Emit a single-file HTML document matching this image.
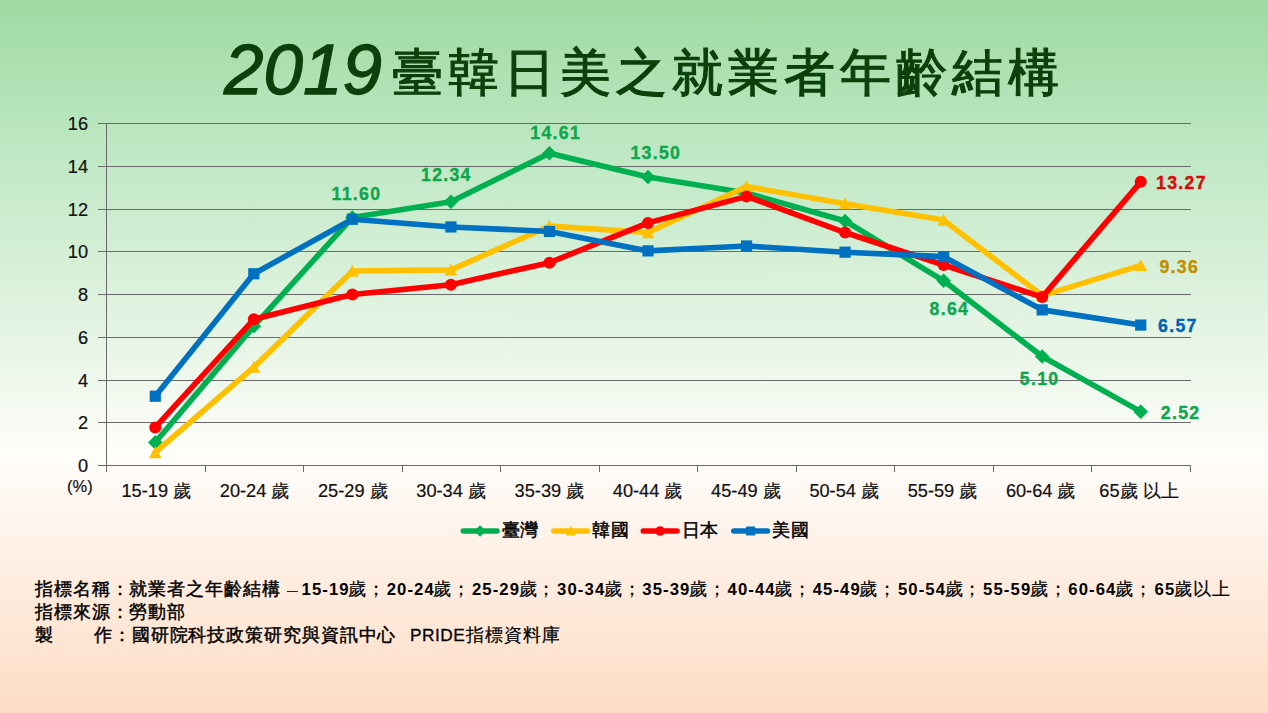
<!DOCTYPE html>
<html><head><meta charset="utf-8">
<style>
html,body{margin:0;padding:0;}
body{width:1268px;height:713px;overflow:hidden;position:relative;
background:linear-gradient(to bottom,#9fd9a1 0%,#bee8c3 21%,#fffdfa 64%,#fddcc4 100%);
font-family:"Liberation Sans",sans-serif;}
.t{position:absolute;white-space:nowrap;}
#y2019{left:224px;top:24.5px;color:#0b400b;font-size:71px;line-height:90px;font-style:italic;letter-spacing:0px;-webkit-text-stroke:1.3px #0b400b}
#tcjk{left:392px;top:38px;color:#0b400b;font-size:51px;line-height:70px;letter-spacing:5px;-webkit-text-stroke:1.2px #0b400b}
svg{position:absolute;left:0;top:0;}
.g{stroke:#6a6a6a;stroke-width:1;}
.ax{stroke:#6a6a6a;stroke-width:1;}
.yl{font-size:18.2px;color:#111;text-align:right;width:40px;left:48px;line-height:20px;-webkit-text-stroke:0.2px #111}
.xl{font-size:18.2px;color:#111;line-height:20px;-webkit-text-stroke:0.2px #111}
.c{width:120px;text-align:center}
.dl{font-size:17.7px;font-weight:bold;line-height:20px;letter-spacing:1.3px;-webkit-text-stroke:0.35px currentColor}
.leg{font-size:18px;color:#000;line-height:20px;letter-spacing:0.5px;-webkit-text-stroke:0.5px #000}
.fc{font-size:18px;letter-spacing:0.9px;color:#000;line-height:22px;-webkit-text-stroke:0.2px #000}
.fc.b{-webkit-text-stroke:0.45px #000}
.fd{font-size:16.7px;font-weight:bold;letter-spacing:1.1px;color:#000;line-height:22px}
.fp{font-size:17.3px;letter-spacing:0.5px;color:#000;line-height:22px;-webkit-text-stroke:0.3px #000}
</style></head><body>
<div class="t" id="y2019">2019</div>
<div class="t" id="tcjk">臺韓日美之就業者年齡結構</div>
<svg width="1268" height="713" viewBox="0 0 1268 713">
<line x1="98" y1="123.5" x2="1191" y2="123.5" class="g"/>
<line x1="98" y1="166.5" x2="1191" y2="166.5" class="g"/>
<line x1="98" y1="209.5" x2="1191" y2="209.5" class="g"/>
<line x1="98" y1="251.5" x2="1191" y2="251.5" class="g"/>
<line x1="98" y1="294.5" x2="1191" y2="294.5" class="g"/>
<line x1="98" y1="337.5" x2="1191" y2="337.5" class="g"/>
<line x1="98" y1="380.5" x2="1191" y2="380.5" class="g"/>
<line x1="98" y1="422.5" x2="1191" y2="422.5" class="g"/>
<line x1="98" y1="465.5" x2="1191" y2="465.5" class="ax"/>
<line x1="106.5" y1="123" x2="106.5" y2="472" class="ax"/>
<line x1="205.50" y1="465" x2="205.50" y2="472" class="ax"/>
<line x1="303.50" y1="465" x2="303.50" y2="472" class="ax"/>
<line x1="402.50" y1="465" x2="402.50" y2="472" class="ax"/>
<line x1="500.50" y1="465" x2="500.50" y2="472" class="ax"/>
<line x1="599.50" y1="465" x2="599.50" y2="472" class="ax"/>
<line x1="697.50" y1="465" x2="697.50" y2="472" class="ax"/>
<line x1="796.50" y1="465" x2="796.50" y2="472" class="ax"/>
<line x1="894.50" y1="465" x2="894.50" y2="472" class="ax"/>
<line x1="993.50" y1="465" x2="993.50" y2="472" class="ax"/>
<line x1="1091.50" y1="465" x2="1091.50" y2="472" class="ax"/>
<line x1="1190.50" y1="465" x2="1190.50" y2="472" class="ax"/>
<polyline points="155.27,442.42 253.82,326.13 352.36,217.55 450.91,201.73 549.45,153.21 648.00,176.94 746.55,192.97 845.09,220.97 943.64,280.82 1042.18,356.49 1140.73,411.63" fill="none" stroke="#00b050" stroke-width="5.6" stroke-linejoin="round" stroke-linecap="round"/>
<path d="M155.27 435.12L162.57 442.42L155.27 449.72L147.97 442.42Z" fill="#00b050"/>
<path d="M253.82 318.83L261.12 326.13L253.82 333.44L246.52 326.13Z" fill="#00b050"/>
<path d="M352.36 210.25L359.66 217.55L352.36 224.85L345.06 217.55Z" fill="#00b050"/>
<path d="M450.91 194.43L458.21 201.73L450.91 209.03L443.61 201.73Z" fill="#00b050"/>
<path d="M549.45 145.91L556.75 153.21L549.45 160.51L542.15 153.21Z" fill="#00b050"/>
<path d="M648.00 169.64L655.30 176.94L648.00 184.24L640.70 176.94Z" fill="#00b050"/>
<path d="M746.55 185.67L753.85 192.97L746.55 200.27L739.25 192.97Z" fill="#00b050"/>
<path d="M845.09 213.67L852.39 220.97L845.09 228.27L837.79 220.97Z" fill="#00b050"/>
<path d="M943.64 273.52L950.94 280.82L943.64 288.12L936.34 280.82Z" fill="#00b050"/>
<path d="M1042.18 349.19L1049.48 356.49L1042.18 363.79L1034.88 356.49Z" fill="#00b050"/>
<path d="M1140.73 404.33L1148.03 411.63L1140.73 418.94L1133.43 411.63Z" fill="#00b050"/>
<polyline points="155.27,452.46 253.82,367.18 352.36,270.99 450.91,269.92 549.45,226.10 648.00,232.51 746.55,186.56 845.09,203.66 943.64,220.11 1042.18,295.57 1140.73,265.43" fill="none" stroke="#ffc000" stroke-width="5.6" stroke-linejoin="round" stroke-linecap="round"/>
<path d="M155.27 446.16L161.57 458.13L148.97 458.13Z" fill="#ffc000"/>
<path d="M253.82 360.88L260.12 372.85L247.52 372.85Z" fill="#ffc000"/>
<path d="M352.36 264.69L358.66 276.66L346.06 276.66Z" fill="#ffc000"/>
<path d="M450.91 263.62L457.21 275.59L444.61 275.59Z" fill="#ffc000"/>
<path d="M549.45 219.80L555.75 231.77L543.15 231.77Z" fill="#ffc000"/>
<path d="M648.00 226.21L654.30 238.18L641.70 238.18Z" fill="#ffc000"/>
<path d="M746.55 180.26L752.85 192.23L740.25 192.23Z" fill="#ffc000"/>
<path d="M845.09 197.36L851.39 209.33L838.79 209.33Z" fill="#ffc000"/>
<path d="M943.64 213.81L949.94 225.78L937.34 225.78Z" fill="#ffc000"/>
<path d="M1042.18 289.27L1048.48 301.24L1035.88 301.24Z" fill="#ffc000"/>
<path d="M1140.73 259.13L1147.03 271.10L1134.43 271.10Z" fill="#ffc000"/>
<polyline points="155.27,427.45 253.82,319.30 352.36,294.50 450.91,284.67 549.45,262.65 648.00,222.89 746.55,196.39 845.09,232.51 943.64,265.00 1042.18,297.06 1140.73,181.85" fill="none" stroke="#ff0000" stroke-width="5.6" stroke-linejoin="round" stroke-linecap="round"/>
<circle cx="155.27" cy="427.45" r="6.00" fill="#ff0000"/>
<circle cx="253.82" cy="319.30" r="6.00" fill="#ff0000"/>
<circle cx="352.36" cy="294.50" r="6.00" fill="#ff0000"/>
<circle cx="450.91" cy="284.67" r="6.00" fill="#ff0000"/>
<circle cx="549.45" cy="262.65" r="6.00" fill="#ff0000"/>
<circle cx="648.00" cy="222.89" r="6.00" fill="#ff0000"/>
<circle cx="746.55" cy="196.39" r="6.00" fill="#ff0000"/>
<circle cx="845.09" cy="232.51" r="6.00" fill="#ff0000"/>
<circle cx="943.64" cy="265.00" r="6.00" fill="#ff0000"/>
<circle cx="1042.18" cy="297.06" r="6.00" fill="#ff0000"/>
<circle cx="1140.73" cy="181.85" r="6.00" fill="#ff0000"/>
<polyline points="155.27,396.25 253.82,273.77 352.36,219.26 450.91,226.95 549.45,231.44 648.00,250.90 746.55,245.98 845.09,252.18 943.64,256.67 1042.18,309.89 1140.73,325.07" fill="none" stroke="#0070c0" stroke-width="5.6" stroke-linejoin="round" stroke-linecap="round"/>
<rect x="149.67" y="390.64" width="11.20" height="11.20" fill="#0070c0"/>
<rect x="248.22" y="268.17" width="11.20" height="11.20" fill="#0070c0"/>
<rect x="346.76" y="213.66" width="11.20" height="11.20" fill="#0070c0"/>
<rect x="445.31" y="221.35" width="11.20" height="11.20" fill="#0070c0"/>
<rect x="543.85" y="225.84" width="11.20" height="11.20" fill="#0070c0"/>
<rect x="642.40" y="245.30" width="11.20" height="11.20" fill="#0070c0"/>
<rect x="740.95" y="240.38" width="11.20" height="11.20" fill="#0070c0"/>
<rect x="839.49" y="246.58" width="11.20" height="11.20" fill="#0070c0"/>
<rect x="938.04" y="251.07" width="11.20" height="11.20" fill="#0070c0"/>
<rect x="1036.58" y="304.29" width="11.20" height="11.20" fill="#0070c0"/>
<rect x="1135.13" y="319.47" width="11.20" height="11.20" fill="#0070c0"/>
<line x1="463.3" y1="531" x2="497.0" y2="531" stroke="#00b050" stroke-width="5.6" stroke-linecap="round"/>
<path d="M480.10 525.16L485.94 531.00L480.10 536.84L474.26 531.00Z" fill="#00b050"/>
<line x1="553.8" y1="531" x2="587.5" y2="531" stroke="#ffc000" stroke-width="5.6" stroke-linecap="round"/>
<path d="M570.60 525.96L575.64 535.54L565.56 535.54Z" fill="#ffc000"/>
<line x1="643.3" y1="531" x2="677.0" y2="531" stroke="#ff0000" stroke-width="5.6" stroke-linecap="round"/>
<circle cx="660.10" cy="531.00" r="4.80" fill="#ff0000"/>
<line x1="733.8" y1="531" x2="767.5" y2="531" stroke="#0070c0" stroke-width="5.6" stroke-linecap="round"/>
<rect x="746.12" y="526.52" width="8.96" height="8.96" fill="#0070c0"/>
</svg>
<div class="t yl" style="top:456.0px">0</div>
<div class="t yl" style="top:413.2px">2</div>
<div class="t yl" style="top:370.5px">4</div>
<div class="t yl" style="top:327.8px">6</div>
<div class="t yl" style="top:285.0px">8</div>
<div class="t yl" style="top:242.2px">10</div>
<div class="t yl" style="top:199.5px">12</div>
<div class="t yl" style="top:156.8px">14</div>
<div class="t yl" style="top:114.0px">16</div>
<div class="t xl" style="left:67.0px;top:476.0px;font-size:16.5px">(%)</div>
<div class="t xl c" style="left:96.3px;top:481px">15-19 歲</div>
<div class="t xl c" style="left:194.6px;top:481px">20-24 歲</div>
<div class="t xl c" style="left:292.8px;top:481px">25-29 歲</div>
<div class="t xl c" style="left:391.1px;top:481px">30-34 歲</div>
<div class="t xl c" style="left:489.4px;top:481px">35-39 歲</div>
<div class="t xl c" style="left:587.6px;top:481px">40-44 歲</div>
<div class="t xl c" style="left:685.9px;top:481px">45-49 歲</div>
<div class="t xl c" style="left:784.2px;top:481px">50-54 歲</div>
<div class="t xl c" style="left:882.5px;top:481px">55-59 歲</div>
<div class="t xl c" style="left:980.7px;top:481px">60-64 歲</div>
<div class="t xl c" style="left:1079.0px;top:481px">65歲 以上</div>
<div class="t dl" style="left:331.5px;top:183.6px;color:#0ea64e">11.60</div>
<div class="t dl" style="left:421.0px;top:165.3px;color:#0ea64e">12.34</div>
<div class="t dl" style="left:530.3px;top:123.1px;color:#0ea64e">14.61</div>
<div class="t dl" style="left:630.4px;top:143.3px;color:#0ea64e">13.50</div>
<div class="t dl" style="left:929.6px;top:298.8px;color:#0ea64e">8.64</div>
<div class="t dl" style="left:1019.8px;top:368.8px;color:#0ea64e">5.10</div>
<div class="t dl" style="left:1160.8px;top:402.6px;color:#0ea64e">2.52</div>
<div class="t dl" style="left:1156.1px;top:172.6px;color:#dc0808">13.27</div>
<div class="t dl" style="left:1159.4px;top:257.4px;color:#c09000">9.36</div>
<div class="t dl" style="left:1158.1px;top:315.5px;color:#0062b8">6.57</div>
<div class="t leg" style="left:501.8px;top:520.0px;">臺灣</div>
<div class="t leg" style="left:592.3px;top:520.0px;">韓國</div>
<div class="t leg" style="left:681.8px;top:520.0px;">日本</div>
<div class="t leg" style="left:772.3px;top:520.0px;">美國</div>
<div class="t fc b" style="left:35.0px;top:577.7px;">指標名稱：就業者之年齡結構</div>
<div style="position:absolute;left:287px;top:590.5px;width:11px;height:1.3px;background:#222"></div>
<div class="t fd" style="left:301.5px;top:578.9px;">15-19</div>
<div class="t fc" style="left:348.2px;top:577.7px;">歲；</div>
<div class="t fd" style="left:386.7px;top:578.9px;">20-24</div>
<div class="t fc" style="left:433.4px;top:577.7px;">歲；</div>
<div class="t fd" style="left:471.9px;top:578.9px;">25-29</div>
<div class="t fc" style="left:518.6px;top:577.7px;">歲；</div>
<div class="t fd" style="left:557.1px;top:578.9px;">30-34</div>
<div class="t fc" style="left:603.8px;top:577.7px;">歲；</div>
<div class="t fd" style="left:642.3px;top:578.9px;">35-39</div>
<div class="t fc" style="left:689.0px;top:577.7px;">歲；</div>
<div class="t fd" style="left:727.5px;top:578.9px;">40-44</div>
<div class="t fc" style="left:774.2px;top:577.7px;">歲；</div>
<div class="t fd" style="left:812.7px;top:578.9px;">45-49</div>
<div class="t fc" style="left:859.4px;top:577.7px;">歲；</div>
<div class="t fd" style="left:897.9px;top:578.9px;">50-54</div>
<div class="t fc" style="left:944.6px;top:577.7px;">歲；</div>
<div class="t fd" style="left:983.1px;top:578.9px;">55-59</div>
<div class="t fc" style="left:1029.8px;top:577.7px;">歲；</div>
<div class="t fd" style="left:1068.3px;top:578.9px;">60-64</div>
<div class="t fc" style="left:1115.0px;top:577.7px;">歲；</div>
<div class="t fd" style="left:1154.5px;top:578.9px;">65</div>
<div class="t fc" style="left:1174.0px;top:577.7px;">歲以上</div>
<div class="t fc b" style="left:35.0px;top:600.7px;">指標來源：勞動部</div>
<div class="t fc b" style="left:35.0px;top:623.7px;">製</div>
<div class="t fc b" style="left:94.0px;top:623.7px;">作：國研院科技政策研究與資訊中心</div>
<div class="t fp" style="left:410.0px;top:623.7px;">PRIDE</div>
<div class="t fc" style="left:466.0px;top:623.7px;">指標資料庫</div>
</body></html>
